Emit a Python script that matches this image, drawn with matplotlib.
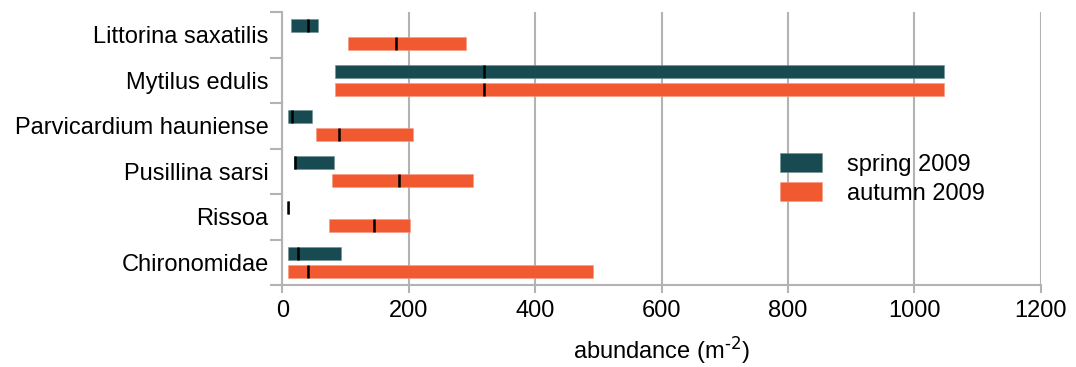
import matplotlib
matplotlib.use('Agg')
import matplotlib.pyplot as plt
import numpy as np

species = ['Littorina saxatilis', 'Mytilus edulis', 'Parvicardium hauniense',
           'Pusillina sarsi', 'Rissoa', 'Chironomidae']

# range (min, max) and median of abundance per species
spring_min = [13, 83, 8, 18, 8, 8]
spring_max = [57, 1047, 47, 82, 10, 92]
spring_med = [40, 319, 15, 20, 9, 25]

autumn_min = [103, 83, 53, 78, 73, 8]
autumn_max = [291, 1047, 206, 302, 202, 491]
autumn_med = [180, 319, 90, 185, 145, 40]

x_ticks = [0, 200, 400, 600, 800, 1000, 1200]

teal = '#184b51'
orange = '#f15a31'
grey = '#b3b3b3'

plt.rcParams['font.family'] = ['Liberation Sans', 'DejaVu Sans']
plt.rcParams['mathtext.default'] = 'regular'
Fontsize = 17

fig = plt.figure(figsize=(10.76, 3.67), dpi=100)
ax = fig.add_axes([0.2625, 0.2234, 0.7046, 0.7439])

y = np.arange(len(species))
off = 0.2
h = 0.285

sp_min = np.array(spring_min)
au_min = np.array(autumn_min)
ax.barh(y - off, np.array(spring_max) - sp_min, left=sp_min, height=h,
        color=teal, edgecolor='#6f8f92', linewidth=0.4, zorder=3, label='spring 2009')
ax.barh(y + off, np.array(autumn_max) - au_min, left=au_min, height=h,
        color=orange, edgecolor='#f79a80', linewidth=0.4, zorder=3, label='autumn 2009')

# median markers
ax.vlines(spring_med, y - off - 0.14, y - off + 0.14, color='black', lw=1.8, zorder=4)
ax.vlines(autumn_med, y + off - 0.14, y + off + 0.14, color='black', lw=1.8, zorder=4)

ax.set_xlim(0, 1200)
ax.set_ylim(len(species) - 0.5, -0.5)
ax.set_xticks(x_ticks)
ax.set_xticklabels([str(t) for t in x_ticks], fontsize=Fontsize)
ax.set_yticks(y)
ax.set_yticklabels(species, fontsize=Fontsize)
ax.set_yticks(np.arange(len(species) + 1) - 0.5, minor=True)

ax.tick_params(axis='y', which='major', length=0, pad=10)
ax.tick_params(axis='y', which='minor', length=9, width=1.5, color=grey)
ax.tick_params(axis='x', which='major', length=6, width=1.5, color=grey, pad=5)

ax.xaxis.grid(True, color=grey, linewidth=1.5, zorder=0)
ax.set_axisbelow(True)
for s in ['top', 'right']:
    ax.spines[s].set_visible(False)
for s in ['left', 'bottom']:
    ax.spines[s].set_color(grey)
    ax.spines[s].set_linewidth(1.5)

ax.set_xlabel(r'abundance (m$^{\text{-2}}$)', fontsize=Fontsize, labelpad=9)

ax.legend(loc='upper left', bbox_to_anchor=(0.656, 0.483), frameon=False,
          fontsize=Fontsize, borderpad=0, borderaxespad=0, handlelength=1.8,
          handleheight=0.82, handletextpad=1.05, labelspacing=0.28)

plt.savefig('out.png', dpi=100)
plt.close(fig)
